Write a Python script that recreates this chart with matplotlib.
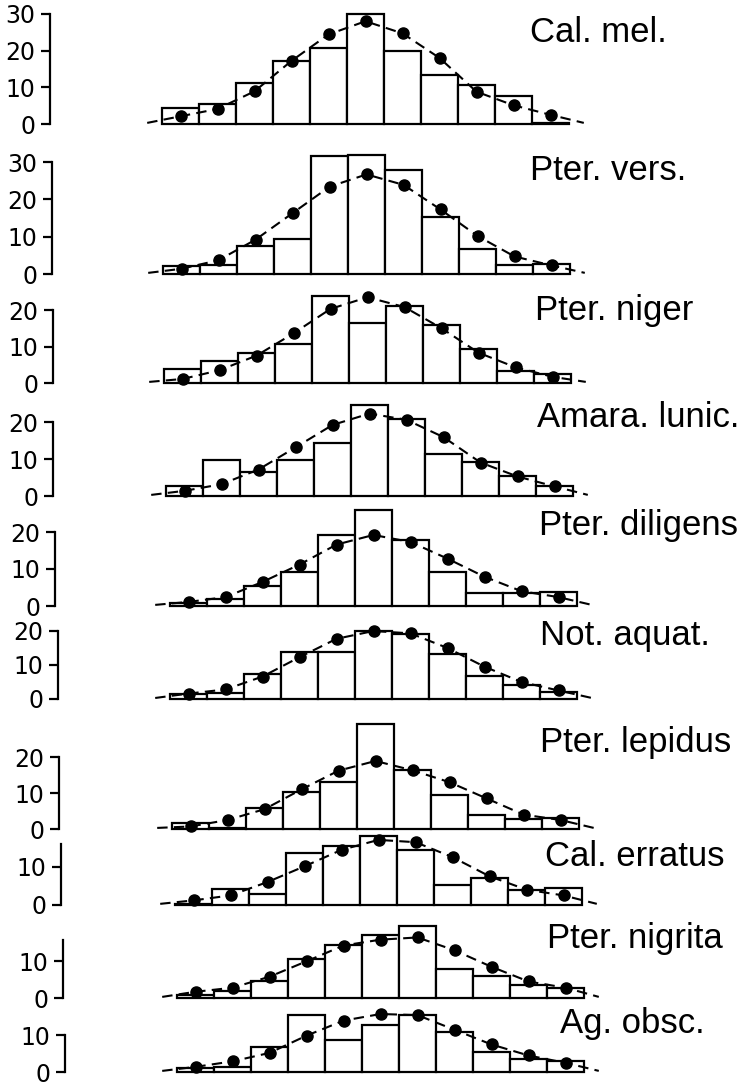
import numpy as np
import matplotlib.pyplot as plt

# 11 Größenklassen, Häufigkeit (%) je Art: Histogramm + Normalverteilung (Punkte)
klassen = np.arange(11)

arten = ['Cal. mel.', 'Pter. vers.', 'Pter. niger', 'Amara. lunic.', 'Pter. diligens',
         'Not. aquat.', 'Pter. lepidus', 'Cal. erratus', 'Pter. nigrita', 'Ag. obsc.']

cal_mel_hist = [4.3, 5.5, 11.3, 17.2, 20.6, 30.0, 20.0, 13.3, 10.5, 7.6, 0.4]
cal_mel_kurve = [2.1, 4.1, 8.9, 17.2, 24.4, 28.0, 24.7, 18.0, 8.8, 5.1, 2.5]

pter_vers_hist = [2.2, 2.3, 7.5, 9.5, 31.7, 31.8, 28.0, 15.3, 6.8, 2.4, 2.8]
pter_vers_kurve = [1.4, 3.7, 9.2, 16.3, 23.4, 26.7, 23.9, 17.3, 10.2, 4.7, 2.3]

pter_niger_hist = [3.8, 6.1, 8.3, 10.6, 23.7, 16.5, 21.0, 15.8, 9.4, 3.4, 2.6]
pter_niger_kurve = [1.1, 3.5, 7.5, 13.6, 20.3, 23.5, 20.8, 15.0, 8.3, 4.3, 1.7]

amara_hist = [2.7, 9.8, 6.5, 9.8, 14.4, 24.6, 20.9, 11.5, 9.3, 5.4, 2.8]
amara_kurve = [1.4, 3.2, 7.2, 13.2, 19.3, 22.4, 20.7, 16.0, 9.1, 5.3, 2.6]

pter_dil_hist = [0.8, 2.0, 5.5, 9.1, 19.2, 26.0, 17.8, 9.3, 3.5, 3.4, 3.7]
pter_dil_kurve = [1.1, 2.4, 6.5, 11.2, 16.6, 19.2, 17.3, 12.8, 7.9, 4.0, 2.4]

not_aquat_hist = [1.5, 1.8, 7.3, 13.7, 13.9, 19.9, 19.0, 13.2, 6.9, 4.1, 2.2]
not_aquat_kurve = [1.6, 2.8, 6.6, 12.3, 17.7, 20.0, 19.3, 15.0, 9.5, 5.0, 2.5]

pter_lep_hist = [1.7, 0.3, 5.9, 10.2, 13.0, 29.2, 16.3, 9.4, 3.9, 2.8, 3.0]
pter_lep_kurve = [0.7, 2.5, 5.5, 11.0, 16.2, 18.9, 16.3, 13.0, 8.5, 4.0, 2.5]

cal_err_hist = [0.3, 4.1, 2.8, 13.5, 15.4, 18.0, 14.4, 5.2, 7.0, 3.9, 4.4]
cal_err_kurve = [1.2, 2.5, 6.0, 10.1, 14.4, 17.0, 16.4, 12.5, 7.5, 4.0, 2.5]

pter_nigrita_hist = [0.8, 1.9, 4.5, 10.5, 14.5, 17.1, 19.5, 8.0, 6.0, 3.5, 2.7]
pter_nigrita_kurve = [1.7, 2.8, 5.8, 10.0, 14.3, 15.9, 16.5, 13.0, 8.5, 4.5, 2.8]

ag_obsc_hist = [1.0, 1.4, 6.7, 15.4, 8.6, 12.9, 15.5, 11.0, 5.5, 3.5, 3.0]
ag_obsc_kurve = [1.4, 2.9, 5.2, 9.9, 14.0, 15.8, 15.5, 11.5, 7.5, 4.5, 2.5]

hist = [cal_mel_hist, pter_vers_hist, pter_niger_hist, amara_hist, pter_dil_hist,
        not_aquat_hist, pter_lep_hist, cal_err_hist, pter_nigrita_hist, ag_obsc_hist]
kurve = [cal_mel_kurve, pter_vers_kurve, pter_niger_kurve, amara_kurve, pter_dil_kurve,
         not_aquat_kurve, pter_lep_kurve, cal_err_kurve, pter_nigrita_kurve, ag_obsc_kurve]

y_ticks = [[0, 10, 20, 30], [0, 10, 20, 30], [0, 10, 20], [0, 10, 20], [0, 10, 20],
           [0, 10, 20], [0, 10, 20], [0, 10], [0, 10], [0, 10]]
achse_oben = [30, 30, 20, 20, 20, 20, 20, 16, 15.8, 10]

# Lage der Teilbilder in Pixeln (Originalvorlage ist von Hand montiert)
spine_x = [50, 52, 53, 53, 55, 58, 59, 61, 63, 65]
balken_x = [162, 163, 164, 166, 170, 170, 172, 175, 177, 177]
null_y = [124, 274, 383, 496, 606, 699, 829, 905, 998, 1072]
px_pro_einheit = [3.67, 3.73, 3.65, 3.68, 3.7, 3.4, 3.6, 3.83, 3.67, 3.67]
text_x = [530, 530, 535, 537, 539, 540, 540, 545, 547, 560]
text_y = [42, 180, 320, 427, 535, 645, 752, 866, 948, 1033]

W, H = 747, 1091
BIN = 37.0

fig = plt.figure(figsize=(W / 100, H / 100), dpi=100)

for k in range(len(arten)):
    sx, fx, y0, s = spine_x[k], balken_x[k], null_y[k], px_pro_einheit[k]
    lo, hi = -2.0, 34.0
    ax = fig.add_axes([sx / W, 1 - (y0 - lo * s) / H, (W - sx) / W, (hi - lo) * s / H])
    ax.patch.set_alpha(0)
    x0 = -0.5 - (fx - sx) / BIN
    ax.set_xlim(x0, x0 + (W - sx) / BIN)
    ax.set_ylim(lo, hi)

    ax.bar(klassen, hist[k], width=1.0, color='white', edgecolor='black',
           linewidth=1.6, zorder=2)
    lx = np.concatenate([[-0.9], klassen, [10.9]])
    ly = np.concatenate([[0.3], kurve[k], [0.3]])
    ax.plot(lx, ly, color='black', lw=1.5, ls=(0, (5, 3)), zorder=3)
    ax.plot(klassen, kurve[k], 'o', color='black', ms=8, zorder=4)

    for sp in ['top', 'right', 'bottom']:
        ax.spines[sp].set_visible(False)
    ax.spines['left'].set_bounds(0, achse_oben[k])
    ax.spines['left'].set_linewidth(1.6)
    ax.set_xticks([])
    ax.set_yticks(y_ticks[k])
    ax.tick_params(axis='y', length=6.5, width=1.6, pad=4, labelsize=17)

    fig.text(text_x[k] / W, 1 - text_y[k] / H, arten[k], ha='left', va='baseline',
             fontsize=25, family='Liberation Sans')

fig.savefig('out.png', dpi=100)
